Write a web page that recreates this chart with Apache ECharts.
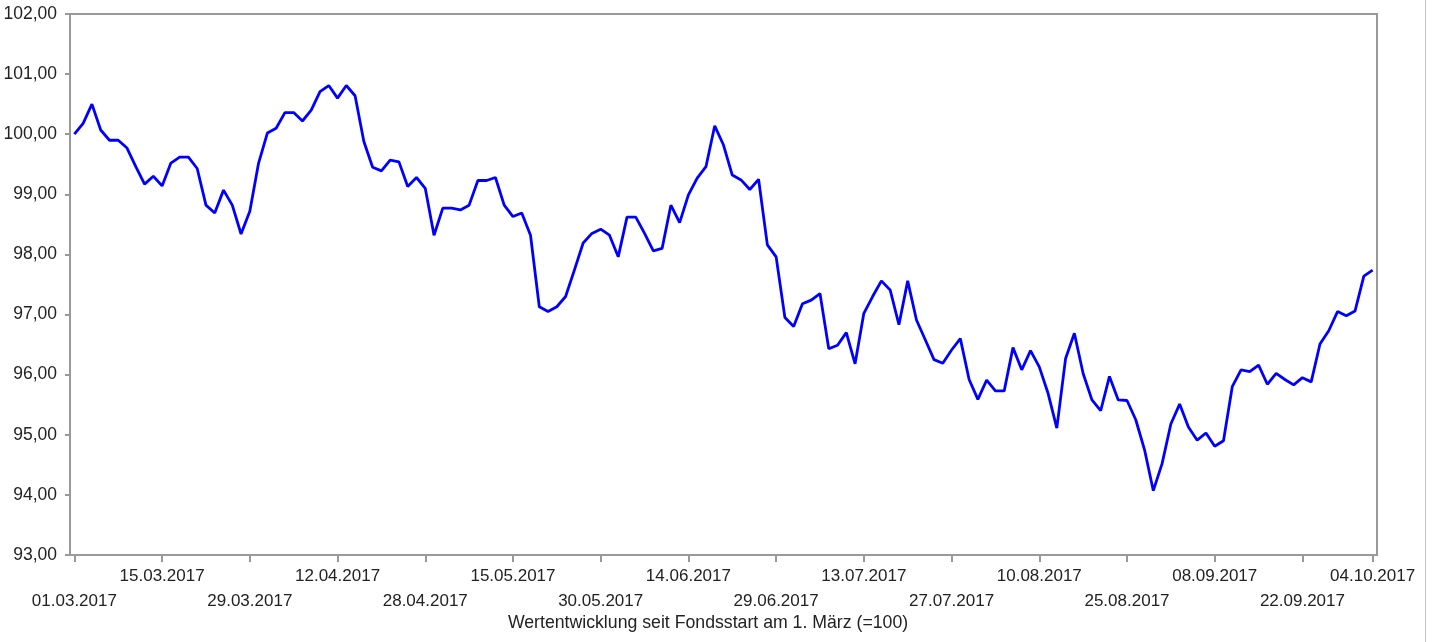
<!DOCTYPE html>
<html>
<head>
<meta charset="utf-8">
<script src="https://cdn.jsdelivr.net/npm/echarts@6/dist/echarts.min.js"></script>
<style>
html,body{margin:0;padding:0;background:#fff;}
#c{width:1434px;height:642px;}
</style>
</head>
<body>
<div id="c"></div>
<script>
// Fund value index (start 01.03.2017 = 100), one value per trading day
var values = [
 100.00,100.18,100.50,100.07,99.90,99.90,99.77,99.46,99.17,99.30,
 99.14,99.52,99.62,99.62,99.43,98.82,98.69,99.07,98.82,98.34,
 98.72,99.52,100.02,100.10,100.36,100.36,100.22,100.40,100.71,100.81,
 100.60,100.81,100.64,99.88,99.45,99.39,99.57,99.54,99.13,99.28,
 99.10,98.32,98.77,98.77,98.74,98.82,99.23,99.23,99.28,98.82,
 98.63,98.69,98.32,97.13,97.05,97.13,97.30,97.74,98.19,98.35,
 98.42,98.32,97.96,98.62,98.62,98.35,98.06,98.10,98.82,98.53,
 98.99,99.27,99.46,100.14,99.82,99.32,99.24,99.08,99.25,98.16,
 97.96,96.95,96.80,97.18,97.24,97.35,96.43,96.49,96.70,96.18,
 97.02,97.30,97.56,97.41,96.83,97.56,96.91,96.58,96.25,96.19,
 96.41,96.60,95.92,95.59,95.91,95.73,95.73,96.45,96.08,96.40,
 96.13,95.69,95.11,96.27,96.69,96.02,95.58,95.40,95.97,95.58,
 95.57,95.25,94.75,94.07,94.52,95.18,95.51,95.13,94.91,95.03,
 94.81,94.90,95.80,96.08,96.05,96.16,95.84,96.02,95.92,95.83,
 95.95,95.88,96.51,96.73,97.05,96.98,97.06,97.64,97.74
];
// trading-day index of each labelled tick, and its date label (upper row / lower row)
var upperIdx = [10,30,50,70,90,110,130,148];
var upperLabels = ['15.03.2017','12.04.2017','15.05.2017','14.06.2017','13.07.2017','10.08.2017','08.09.2017','04.10.2017'];
var lowerIdx = [0,20,40,60,80,100,120,140];
var lowerLabels = ['01.03.2017','29.03.2017','28.04.2017','30.05.2017','29.06.2017','27.07.2017','25.08.2017','22.09.2017'];
var yMin = 93, yMax = 102, yStep = 1;
var titleText = 'Wertentwicklung seit Fondsstart am 1. März (=100)';

// category = trading-day index
var categories = values.map(function(v,i){ return String(i); });
var FONT = '"Liberation Sans", Arial, sans-serif';

function makeXAxis(idx, labels, margin, showLine){
  var sel = function(i){ return idx.indexOf(i) >= 0; };
  return {
    type:'category', data:categories, boundaryGap:true, gridIndex:0, position:'bottom',
    splitLine:{show:false},
    axisLine:{show:showLine, onZero:false, lineStyle:{color:'#999', width:2}},
    axisTick:{show:true, alignWithLabel:true, length:7, lineStyle:{color:'#999', width:2}, interval:sel},
    axisLabel:{
      margin:margin, hideOverlap:false, showMaxLabel:true, showMinLabel:true,
      interval:sel, color:'#222', fontFamily:FONT, fontSize:17,
      formatter:function(val){
        var k = idx.indexOf(Number(val));
        return k < 0 ? '' : labels[k];
      }
    }
  };
}

var chart = echarts.init(document.getElementById('c'), null, {renderer:'canvas'});
chart.setOption({
  animation:false,
  backgroundColor:'#fff',
  grid:{left:70, top:14, right:57, bottom:87, show:true, borderColor:'#999', borderWidth:2, backgroundColor:'transparent'},
  xAxis:[
    makeXAxis(upperIdx, upperLabels, 13, true),
    makeXAxis(lowerIdx, lowerLabels, 38, false)
  ],
  yAxis:{
    type:'value', min:yMin, max:yMax, interval:yStep,
    splitLine:{show:false},
    axisLine:{show:true, onZero:false, lineStyle:{color:'#999', width:2}},
    axisTick:{show:true, length:5, lineStyle:{color:'#999', width:2}},
    axisLabel:{margin:13, color:'#222', fontFamily:FONT, fontSize:17.5,
      formatter:function(v){ return v.toFixed(2).replace('.', ','); }}
  },
  series:[{
    type:'line', data:values, xAxisIndex:0, showSymbol:false, symbol:'none',
    lineStyle:{color:'#0000ff', width:2.8}, smooth:false
  }],
  graphic:[
    {type:'text', x:708, y:623, style:{text:titleText, fill:'#222', font:'17.7px '+FONT, align:'center', verticalAlign:'middle'}},
    {type:'line', shape:{x1:1425.5, y1:0, x2:1425.5, y2:642}, style:{stroke:'#c4c4c4', lineWidth:1}}
  ]
});
</script>
</body>
</html>
